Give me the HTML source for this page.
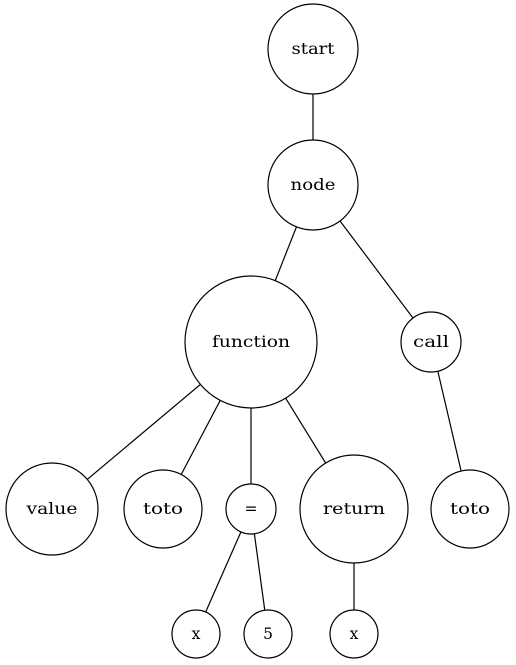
<!DOCTYPE html>
<html><head><meta charset="utf-8"><style>html,body{margin:0;padding:0;background:#fff}svg{display:block}</style></head>
<body>
<svg width="516" height="665" viewBox="0 0 516 665" xmlns="http://www.w3.org/2000/svg">
<g stroke="#000" stroke-width="1.2">
<line x1="313" y1="49" x2="313" y2="185"/>
<line x1="313" y1="185" x2="251" y2="342"/>
<line x1="313" y1="185" x2="431" y2="342"/>
<line x1="251" y1="342" x2="52" y2="509"/>
<line x1="251" y1="342" x2="163" y2="509"/>
<line x1="251" y1="342" x2="251" y2="509"/>
<line x1="251" y1="342" x2="354" y2="509"/>
<line x1="431" y1="342" x2="470" y2="509"/>
<line x1="251" y1="509" x2="196" y2="634"/>
<line x1="251" y1="509" x2="268" y2="634"/>
<line x1="354" y1="509" x2="354" y2="634"/>
</g>
<g fill="#fff" stroke="#000" stroke-width="1.2">
<circle cx="313" cy="49" r="45"/>
<circle cx="313" cy="185" r="45"/>
<circle cx="251" cy="342" r="66"/>
<circle cx="431" cy="342" r="30"/>
<circle cx="52" cy="509" r="46"/>
<circle cx="163" cy="509" r="39"/>
<circle cx="251" cy="509" r="25"/>
<circle cx="354" cy="509" r="54"/>
<circle cx="470" cy="509" r="39"/>
<circle cx="196" cy="634" r="24"/>
<circle cx="268" cy="634" r="24"/>
<circle cx="354" cy="634" r="24"/>
</g>
<g font-family="DejaVu Serif, serif" font-size="15.5" text-anchor="middle" fill="#000" lengthAdjust="spacingAndGlyphs">
<text x="313" y="54" textLength="43" lengthAdjust="spacingAndGlyphs">start</text>
<text x="313" y="190" textLength="45" lengthAdjust="spacingAndGlyphs">node</text>
<text x="251" y="347" textLength="78" lengthAdjust="spacingAndGlyphs">function</text>
<text x="431" y="347" textLength="36" lengthAdjust="spacingAndGlyphs">call</text>
<text x="52" y="514" textLength="51" lengthAdjust="spacingAndGlyphs">value</text>
<text x="163" y="514" textLength="40" lengthAdjust="spacingAndGlyphs">toto</text>
<text x="251" y="514">=</text>
<text x="354" y="514" textLength="62" lengthAdjust="spacingAndGlyphs">return</text>
<text x="470" y="514" textLength="40" lengthAdjust="spacingAndGlyphs">toto</text>
<text x="196" y="639">x</text>
<text x="268" y="639">5</text>
<text x="354" y="639">x</text>
</g>
</svg>
</body></html>
